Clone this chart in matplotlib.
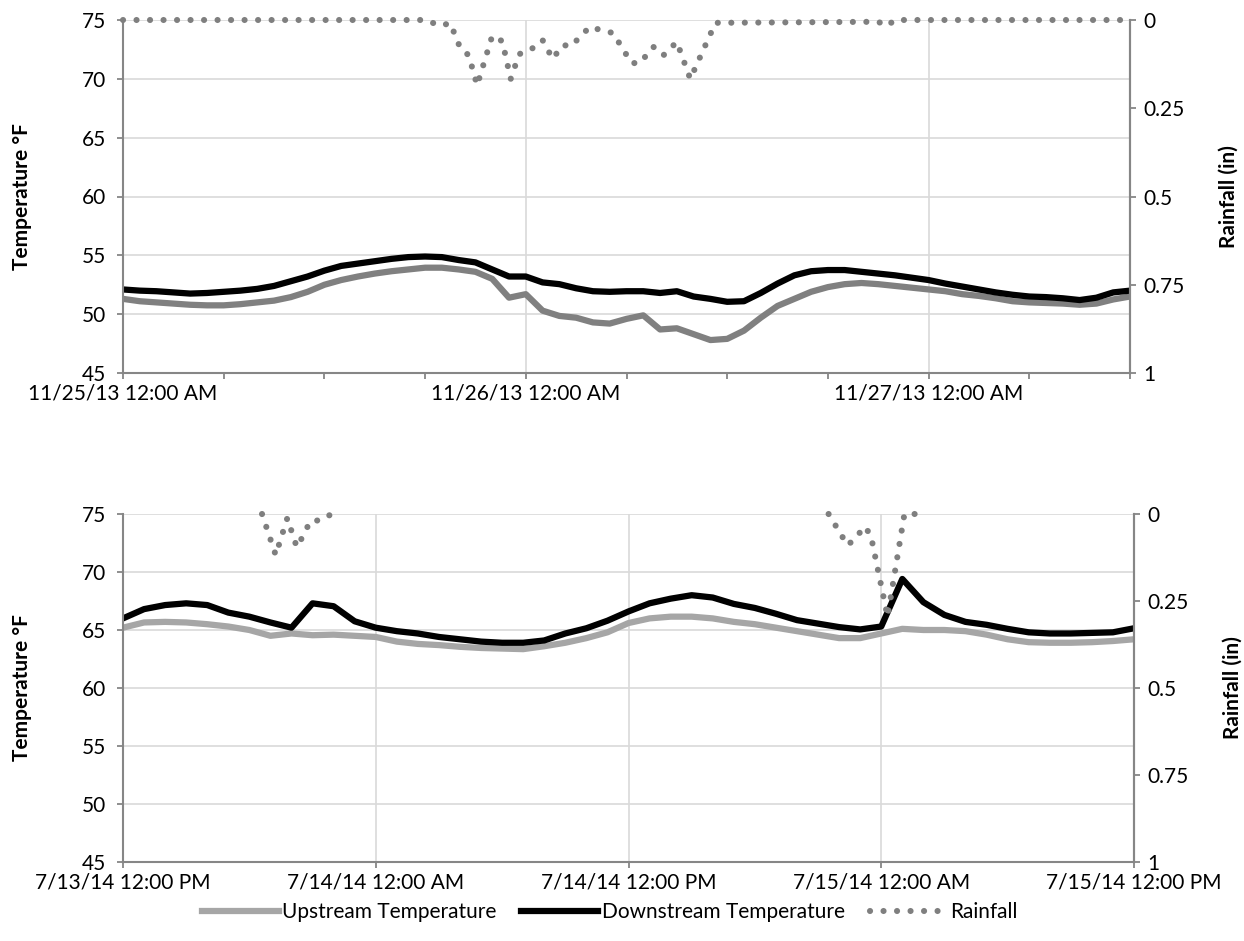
import numpy as np
import pandas as pd
import matplotlib
matplotlib.use("Agg")
import matplotlib.pyplot as plt
import matplotlib.dates as mdates

plt.rcParams['font.family'] = ['Lato', 'DejaVu Sans']

# --- top panel: 11/25/13 - 11/27/13, hourly ---
top_start = pd.Timestamp("2013-11-25 00:00")
top_up = [51.3, 51.1, 51.0, 50.9, 50.8, 50.75, 50.75, 50.85, 51.0, 51.15,
          51.45, 51.9, 52.5, 52.9, 53.2, 53.45, 53.65, 53.8, 53.95, 53.95,
          53.8, 53.6, 53.0, 51.4, 51.7, 50.3, 49.85, 49.7, 49.3, 49.2,
          49.6, 49.9, 48.7, 48.8, 48.3, 47.8, 47.9, 48.6, 49.7, 50.7,
          51.3, 51.9, 52.3, 52.55, 52.65, 52.55, 52.4, 52.25, 52.1, 51.95,
          51.7, 51.55, 51.35, 51.1, 51.0, 50.95, 50.9, 50.8, 50.9, 51.25, 51.5]
top_down = [52.1, 52.0, 51.95, 51.85, 51.75, 51.8, 51.9, 52.0, 52.15, 52.4,
            52.8, 53.2, 53.7, 54.1, 54.3, 54.5, 54.7, 54.85, 54.9, 54.85,
            54.6, 54.4, 53.8, 53.2, 53.2, 52.7, 52.55, 52.2, 51.95, 51.9,
            51.95, 51.95, 51.8, 51.95, 51.5, 51.3, 51.05, 51.1, 51.8, 52.6,
            53.3, 53.65, 53.75, 53.75, 53.6, 53.45, 53.3, 53.1, 52.9, 52.6,
            52.35, 52.1, 51.85, 51.65, 51.5, 51.45, 51.35, 51.2, 51.4, 51.85, 52.0]
top_rain_hours = [0, 18.0, 18.9, 19.5, 20.1, 20.6, 21.1, 22.0, 22.6, 23.1, 23.6,
                  24.4, 25.0, 25.6, 26.2, 26.7, 27.8, 29.2, 30.3, 30.8, 31.6,
                  32.2, 33.0, 33.8, 35.3, 45.0, 45.5, 46.0, 60.0]
top_rain = [0, 0, 0.016, 0.009, 0.08, 0.10, 0.185, 0.045, 0.06, 0.167, 0.097,
            0.08, 0.057, 0.11, 0.071, 0.074, 0.02, 0.037, 0.122, 0.122, 0.076,
            0.10, 0.062, 0.167, 0.008, 0.005, 0.017, 0.0, 0.0]

# --- bottom panel: 7/13/14 12PM - 7/15/14 12PM, hourly ---
bot_start = pd.Timestamp("2014-07-13 12:00")
bot_up = [65.2, 65.65, 65.7, 65.65, 65.5, 65.3, 65.0, 64.5, 64.7, 64.55,
          64.6, 64.5, 64.4, 64.0, 63.8, 63.7, 63.55, 63.45, 63.4, 63.35,
          63.6, 63.9, 64.3, 64.8, 65.6, 66.0, 66.15, 66.15, 66.0, 65.7,
          65.5, 65.2, 64.9, 64.6, 64.3, 64.3, 64.7, 65.1, 65.0, 65.0,
          64.9, 64.6, 64.2, 63.95, 63.9, 63.9, 63.95, 64.05, 64.2]
bot_down = [66.0, 66.8, 67.15, 67.3, 67.15, 66.5, 66.15, 65.65, 65.2, 67.3,
            67.05, 65.75, 65.2, 64.9, 64.7, 64.4, 64.2, 64.0, 63.9, 63.9,
            64.1, 64.7, 65.15, 65.8, 66.6, 67.3, 67.7, 68.0, 67.8, 67.25,
            66.9, 66.4, 65.85, 65.55, 65.25, 65.05, 65.3, 69.4, 67.4, 66.3,
            65.7, 65.45, 65.1, 64.8, 64.7, 64.7, 64.75, 64.8, 65.15]
bot_rain_hours = [6.6, 7.25, 7.8, 8.25, 8.4, 8.9, 9.4, 9.9, np.nan,
                  33.5, 34.4, 34.8, 35.2, 35.5, 36.3, 37.1, 37.7]
bot_rain = [0, 0.118, 0.012, 0.095, 0.08, 0.02, 0.018, 0, np.nan,
            0, 0.09, 0.068, 0.036, 0.06, 0.295, 0, 0]

up_dark = '#808080'
up_light = '#a6a6a6'
rain_col = '#7f7f7f'
spine_col = '#868686'
grid_col = '#d9d9d9'
fs = 15
lw_t = 4.5
lw_r = 4.4
dots = (0, (0.01, 2.2))


def panel(ax, start, up, down, rain_h, rain, up_color, span_h, major_h, minor_h):
    t = pd.date_range(start, periods=len(up), freq='h')
    ax.plot(t, up, color=up_color, lw=lw_t, solid_capstyle='round', solid_joinstyle='round')
    ax.plot(t, down, color='black', lw=lw_t, solid_capstyle='round', solid_joinstyle='round')
    ax.set_ylim(45, 75)
    ax.set_yticks(range(45, 80, 5))
    ax.set_xlim(start, start + pd.Timedelta(hours=span_h))
    ax.xaxis.set_major_locator(mdates.HourLocator(byhour=range(0, 24, major_h)))
    ax.xaxis.set_major_formatter(mdates.DateFormatter('%-m/%-d/%y %I:%M %p'))
    if minor_h:
        ax.xaxis.set_minor_locator(mdates.HourLocator(byhour=range(0, 24, minor_h)))
    ax.grid(True, axis='both', which='major', color=grid_col, lw=1.2)
    ax.set_axisbelow(True)
    ax.set_ylabel('Temperature °F', fontsize=fs, fontweight='bold')
    ax.tick_params(axis='both', which='both', labelsize=fs, color=spine_col, length=4.5, width=1.3)
    ax.tick_params(axis='x', pad=3)
    ax.tick_params(axis='y', pad=8)
    ax.spines['top'].set_visible(False)
    for s in ['left', 'bottom', 'right']:
        ax.spines[s].set_color(spine_col)
        ax.spines[s].set_linewidth(1.5)

    ax2 = ax.twinx()
    rain_x = mdates.date2num(start) + np.array(rain_h, dtype=float) / 24.0
    ax2.plot(rain_x, rain, color=rain_col, lw=lw_r, linestyle=dots,
             dash_capstyle='round', clip_on=False)
    ax2.set_ylim(1, 0)
    ax2.set_yticks([0, 0.25, 0.5, 0.75, 1])
    ax2.set_yticklabels(['0', '0.25', '0.5', '0.75', '1'])
    ax2.set_ylabel('Rainfall (in)', fontsize=fs, fontweight='bold')
    ax2.tick_params(axis='y', labelsize=fs, color=spine_col, length=4.5, width=1.3, pad=5)
    for s in ['top', 'left', 'bottom']:
        ax2.spines[s].set_visible(False)
    ax2.spines['right'].set_color(spine_col)
    ax2.spines['right'].set_linewidth(1.5)
    ax2.yaxis.set_label_coords(1.088, 0.5)
    ax.yaxis.set_label_coords(-0.09, 0.5)
    return ax2


fig = plt.figure(figsize=(12.44, 9.41), dpi=100)
ax_top = fig.add_axes([123 / 1244, 1 - 373 / 941, (1130 - 123) / 1244, (373 - 20) / 941])
ax_bot = fig.add_axes([123 / 1244, 1 - 862 / 941, (1134 - 123) / 1244, (862 - 514) / 941])

panel(ax_top, top_start, top_up, top_down, top_rain_hours, top_rain, up_dark, 60, 24, 6)
panel(ax_bot, bot_start, bot_up, bot_down, bot_rain_hours, bot_rain, up_light, 48, 12, None)

leg_handles = [plt.Line2D([], [], color=up_light, lw=lw_t),
               plt.Line2D([], [], color='black', lw=lw_t),
               plt.Line2D([], [], color=rain_col, lw=lw_r, linestyle=dots, dash_capstyle='round')]
fig.legend(leg_handles, ['Upstream Temperature', 'Downstream Temperature', 'Rainfall'],
           loc='center', bbox_to_anchor=(0.49, 1 - 912 / 941), ncol=3, frameon=False,
           fontsize=fs, handlelength=3.7, handletextpad=0.15, columnspacing=1.2)

fig.savefig('out.png', dpi=100)
